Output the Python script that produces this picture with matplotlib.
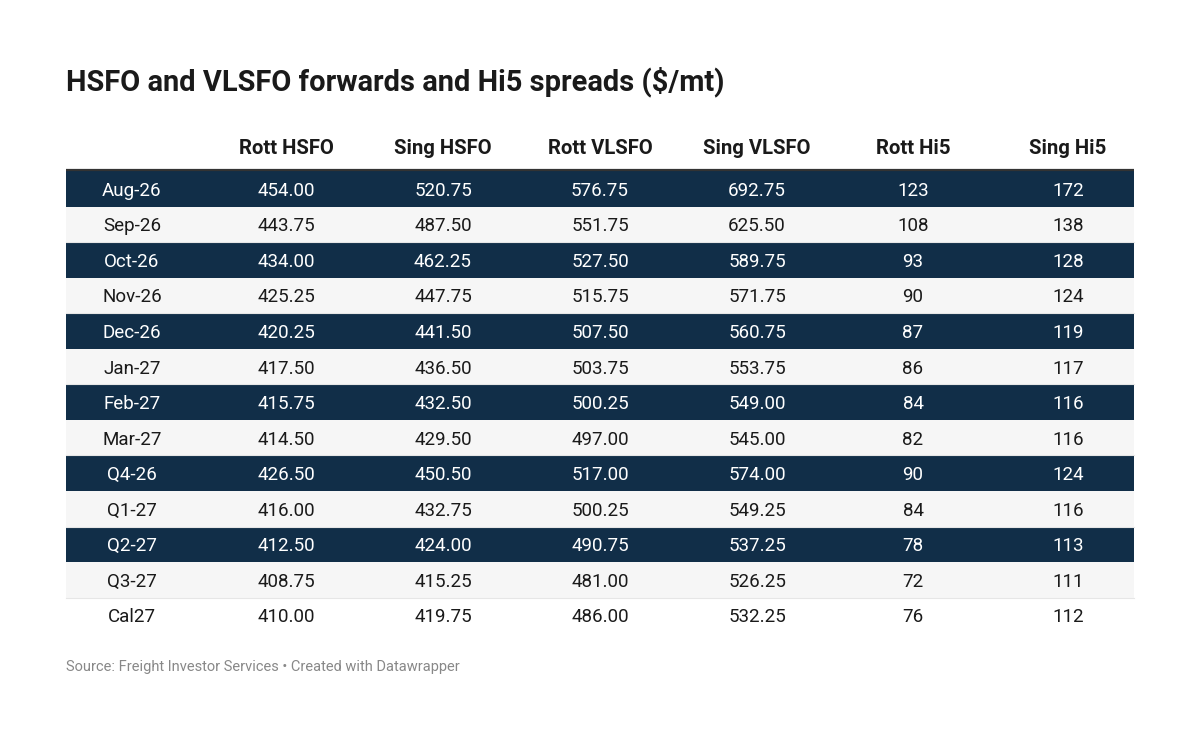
import matplotlib.pyplot as plt
from matplotlib.patches import Rectangle

plt.rcParams['font.family'] = ['Roboto', 'DejaVu Sans']

# Datos de la tabla
periods = ['Aug-26', 'Sep-26', 'Oct-26', 'Nov-26', 'Dec-26', 'Jan-27', 'Feb-27',
           'Mar-27', 'Q4-26', 'Q1-27', 'Q2-27', 'Q3-27', 'Cal27']
columns = ['Rott HSFO', 'Sing HSFO', 'Rott VLSFO', 'Sing VLSFO', 'Rott Hi5', 'Sing Hi5']
rott_hsfo = [454.00, 443.75, 434.00, 425.25, 420.25, 417.50, 415.75, 414.50, 426.50, 416.00, 412.50, 408.75, 410.00]
sing_hsfo = [520.75, 487.50, 462.25, 447.75, 441.50, 436.50, 432.50, 429.50, 450.50, 432.75, 424.00, 415.25, 419.75]
rott_vlsfo = [576.75, 551.75, 527.50, 515.75, 507.50, 503.75, 500.25, 497.00, 517.00, 500.25, 490.75, 481.00, 486.00]
sing_vlsfo = [692.75, 625.50, 589.75, 571.75, 560.75, 553.75, 549.00, 545.00, 574.00, 549.25, 537.25, 526.25, 532.25]
rott_hi5 = [123, 108, 93, 90, 87, 86, 84, 82, 90, 84, 78, 72, 76]
sing_hi5 = [172, 138, 128, 124, 119, 117, 116, 116, 124, 116, 113, 111, 112]

series = [
    [f'{v:.2f}' for v in rott_hsfo],
    [f'{v:.2f}' for v in sing_hsfo],
    [f'{v:.2f}' for v in rott_vlsfo],
    [f'{v:.2f}' for v in sing_vlsfo],
    [f'{v}' for v in rott_hi5],
    [f'{v}' for v in sing_hi5],
]

dark = '#112e48'
light = '#f6f6f6'

fig = plt.figure(figsize=(12, 7.42), dpi=100)
ax = fig.add_axes([0, 0, 1, 1])
ax.set_xlim(0, 1200)
ax.set_ylim(742, 0)
ax.axis('off')

left, right = 66, 1134
top = 171
row_h = 35.55
col_x = [132, 286, 443, 600, 757, 913, 1068]

# Titulo
ax.text(left, 82, 'HSFO and VLSFO forwards and Hi5 spreads ($/mt)', fontsize=20.85,
        fontweight='bold', color='#1a1a1a', va='center', ha='left')

# Cabecera
for x, name in zip(col_x[1:], columns):
    ax.text(x, 148, name, fontsize=14.6, fontweight='bold', color='#1a1a1a',
            ha='center', va='center')
ax.plot([left, right], [top - 1, top - 1], color='#333333', lw=1.6, solid_capstyle='butt')

# Filas
last = len(periods) - 1
for i, p in enumerate(periods):
    y0 = top + i * row_h
    is_dark = i % 2 == 0 and i != last
    if is_dark:
        ax.add_patch(Rectangle((left, y0), right - left, row_h, facecolor=dark, edgecolor='none'))
        tc = 'white'
    else:
        fc = light if i != last else 'white'
        ax.add_patch(Rectangle((left, y0), right - left, row_h, facecolor=fc, edgecolor='none'))
        tc = '#1a1a1a'
        if i != last:
            ax.plot([left, right], [y0 + row_h, y0 + row_h], color='#e6e6e6', lw=0.8)
    yc = y0 + row_h / 2 + 2
    ax.text(col_x[0], yc, p, fontsize=13.5, color=tc, ha='center', va='center')
    for x, s in zip(col_x[1:], series):
        ax.text(x, yc, s[i], fontsize=13.5, color=tc, ha='center', va='center')

# Fuente
ax.text(left, 667, 'Source: Freight Investor Services \u2022 Created with Datawrapper',
        fontsize=10.5, color='#888888', ha='left', va='center')

fig.savefig('out.png', dpi=100)
